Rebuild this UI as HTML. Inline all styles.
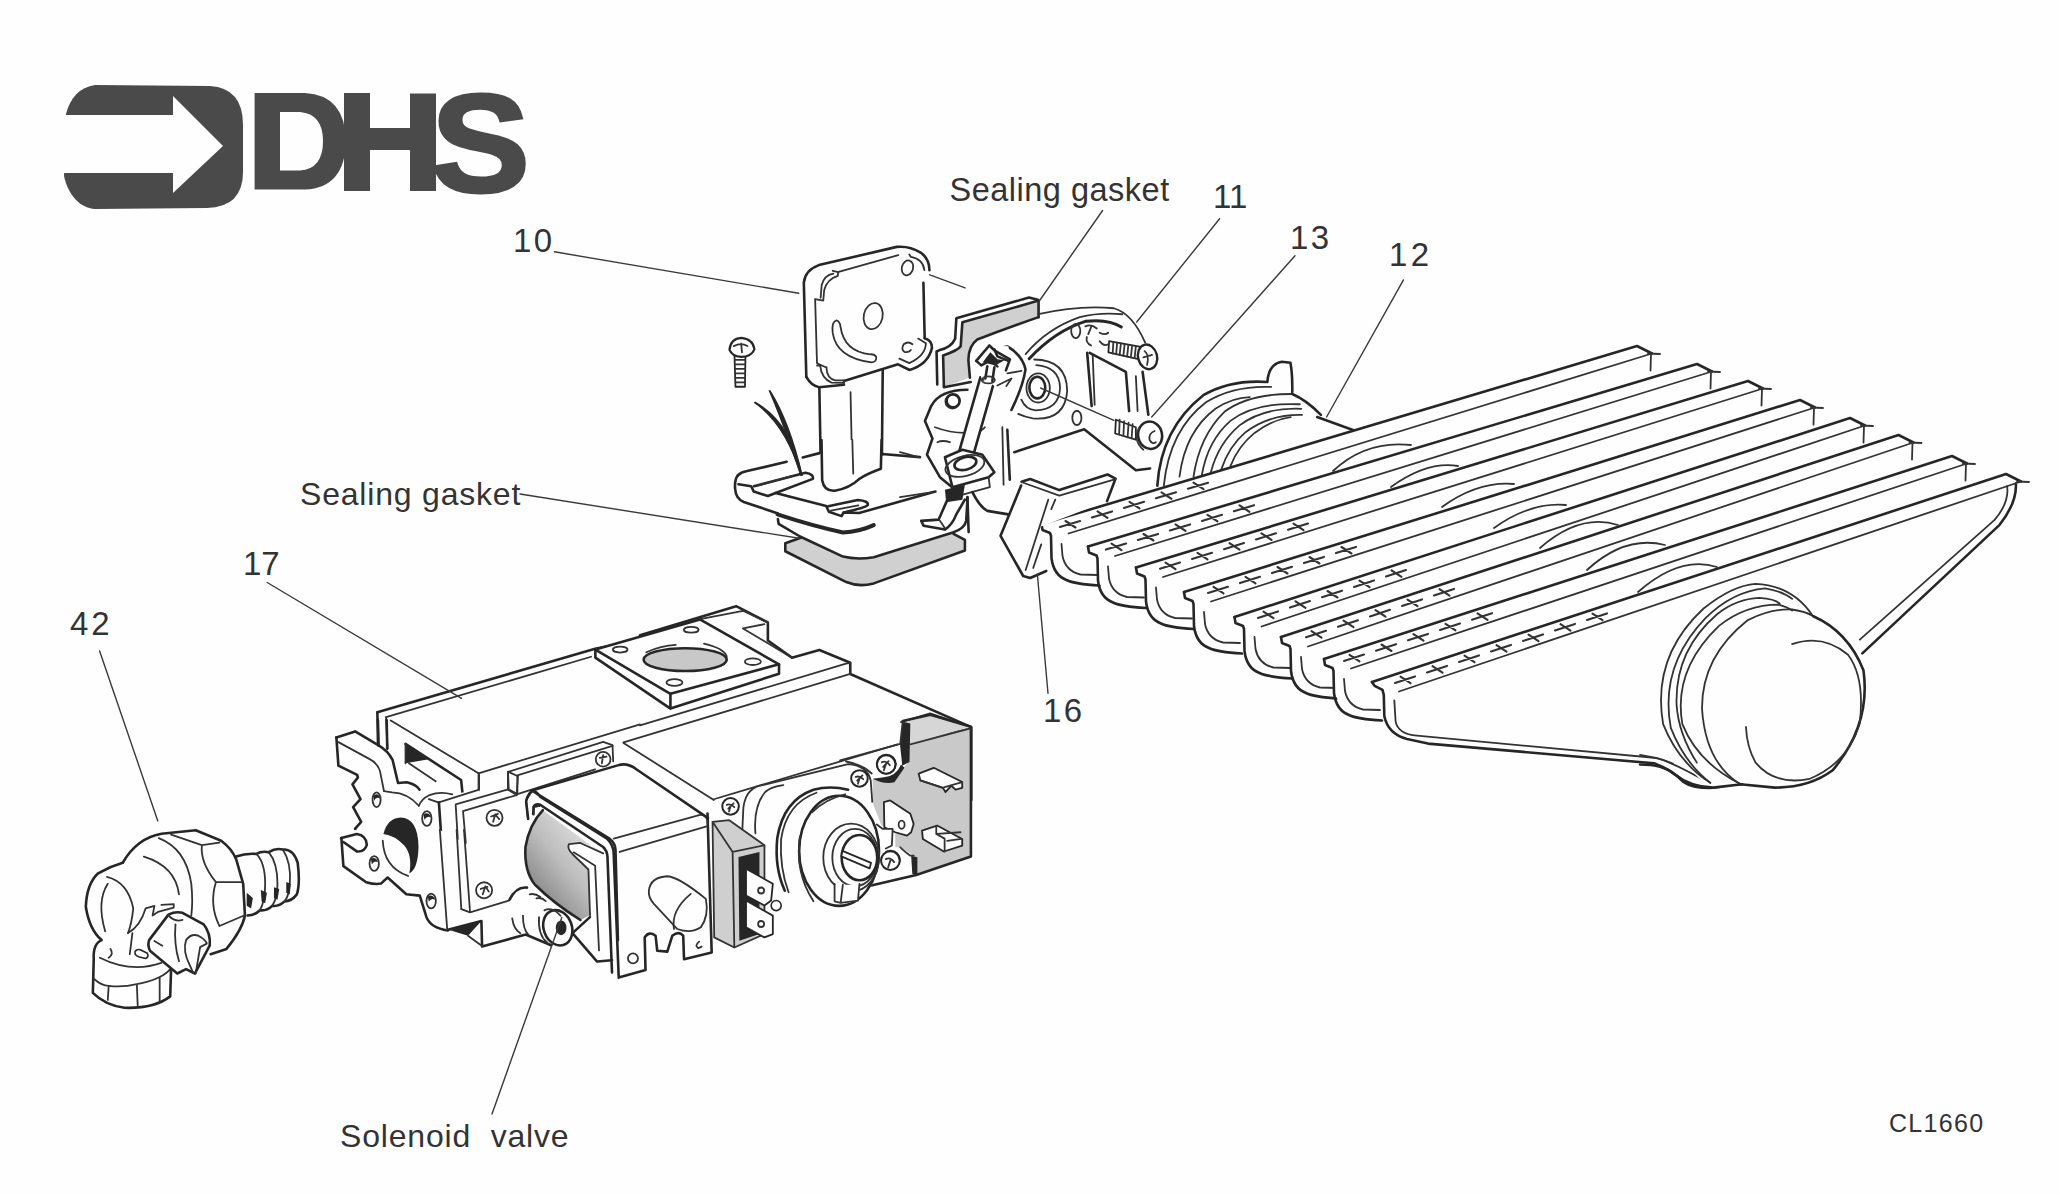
<!DOCTYPE html>
<html><head><meta charset="utf-8">
<style>
html,body{margin:0;padding:0;background:#fefefe;width:2059px;height:1194px;overflow:hidden}
svg{position:absolute;left:0;top:0}
text{font-family:"Liberation Sans",sans-serif;fill:#333}
path,ellipse,circle,rect,polygon,line,polyline{vector-effect:non-scaling-stroke}
.l{fill:none;stroke:#262626;stroke-width:2.6;stroke-linecap:round;stroke-linejoin:round}
.m{fill:none;stroke:#333;stroke-width:1.8;stroke-linecap:round;stroke-linejoin:round}
.t{fill:none;stroke:#3a3a3a;stroke-width:1.4;stroke-linecap:round}
.w{fill:#fefefe;stroke:none}
.f{fill:#fefefe;stroke:#262626;stroke-width:2.6;stroke-linejoin:round}
.g{fill:#d0d0d0;stroke:none}
.k{fill:#262626;stroke:none}
</style></head>
<body>
<svg width="2059" height="1194" viewBox="0 0 2059 1194">
<g id="logo" fill="#4a4a4a">
<path d="M66,114 C70,98 80,87 95,85 L210,86 Q243,88 243,125 L243,172 Q243,207 207,208 L95,209 C80,208 68,195 64,176 Z"/>
<path fill="#fefefe" d="M40,115 L173,115 L173,96 L223,146 L173,193 L173,173 L40,173 Z"/>
<path fill-rule="evenodd" d="M254.6,93 L305,93 Q345,95 346,141 Q345,188 305,189.5 L254.6,189.5 Z M280,112 L300,112 Q323,114 323,141 Q323,169 300,170.5 L280,170.5 Z"/>
<path d="M344,93 L370,93 L370,128 L410,128 L410,93.5 L436,93.5 L436,191 L410,191 L410,150 L370,150 L370,191 L344,191 Z"/>
</g>
<text id="logoS" x="0" y="0" font-size="140" font-weight="bold" transform="translate(431,191.5) scale(1.06,1)" style="fill:#4a4a4a;stroke:#4a4a4a;stroke-width:3">S</text>
<!-- part 10 upper: tile [720,250] scale 300/1202 -->
<g transform="translate(720,250) scale(0.24958)">
 <!-- flange fill -->
 <path class="w" d="M352,508 L343,118 Q345,72 392,62 L712,12 Q748,5 790,12 Q836,30 838,80 L826,350 Q845,352 846,392 L830,425 Q800,455 760,470 L655,480 L652,900 L410,935 L398,547 Z"/>
 <!-- neck -->
 <path class="l" d="M398,547 L405,930"/>
 <path class="l" d="M652,478 L648,900"/>
 <path class="m" d="M523,570 L530,890"/>
 <!-- small screw -->
 <path class="f" d="M58,420 L102,420 L100,548 L62,548 Z" style="stroke-width:1.8"/>
 <path class="m" d="M60,440 L100,440 M60,458 L100,458 M60,476 L100,476 M61,494 L100,494 M61,512 L100,512 M62,530 L100,530"/>
 <path class="f" d="M38,400 Q42,355 85,352 Q132,356 138,398 Q125,428 85,428 Q48,425 38,400 Z" style="stroke-width:2.2"/>
 <path class="m" d="M55,385 Q85,370 110,385 M85,375 L88,410"/>
 <!-- wire -->
 <!-- short stub line -->
 <path class="t" d="M800,85 L982,152"/>
</g>
<!-- flange detail: zoom [790,245] s=150/1194 -->
<g transform="translate(790,245) scale(0.125628)">
 <path class="w" d="M130,1050 L110,300 Q120,200 230,160 L850,15 Q950,5 1040,60 Q1110,110 1110,200 L1070,740 Q1130,760 1130,820 Q1100,950 950,995 L860,950 L430,1110 L230,1130 Q170,1120 130,1050 Z"/>
 <path class="l" d="M130,1050 L110,300 Q120,200 230,160 L850,15 Q950,5 1040,60 Q1110,110 1110,200"/>
 <path class="l" d="M1062,300 L1072,742"/>
 <path class="l" d="M1072,742 Q1132,760 1130,820 Q1100,950 952,995 L860,950 L430,1082"/>
 <path class="l" d="M130,1050 Q170,1122 232,1132 L430,1112"/>
 <path class="m" d="M1020,745 L1082,782 Q1080,880 950,940 L870,905"/>
 <path class="m" d="M950,75 L962,95 Q1058,112 1070,200"/>
 <path class="m" d="M380,215 L862,80"/>
 <path class="m" d="M340,205 L385,215 L380,245 Q295,270 272,360 L265,442 L200,430 L215,942 L290,975"/>
 <path class="m" d="M345,228 Q272,240 252,320 L244,420"/>
 <path class="m" d="M290,975 Q292,1060 360,1078 L432,1078 L428,1112"/>
 <path class="m" d="M215,960 L240,960 Q250,1060 330,1095 L425,1098"/>
 <ellipse class="m" cx="935" cy="182" rx="45" ry="60" transform="rotate(15 935 182)"/>
 <ellipse class="m" cx="662" cy="566" rx="75" ry="105" transform="rotate(12 662 566)"/>
 <path class="m" d="M370,600 Q330,610 340,700 Q370,900 650,935 Q692,930 686,890 Q672,868 640,870 Q430,850 402,650 Q396,605 370,600 Z"/>
 <path class="m" d="M975,790 Q940,762 905,790 Q882,830 910,850 Q940,860 962,836"/>
</g>
<!-- part 10 base: zoom [725,440] scale 260/1940 -->
<g transform="translate(725,440) scale(0.13402)">
 <path class="g" d="M450,770 L570,728 L1705,700 L1790,745 L1790,825 L1110,1070 Q1000,1100 905,1060 L450,830 Z"/>
 <path class="l" d="M450,770 L570,728 M1705,700 L1790,745 L1790,825 L1110,1070 Q1000,1100 905,1060 L450,830 L450,770"/>
 <path class="w" d="M395,560 L395,590 L400,625 L560,720 L880,870 Q980,895 1110,875 L1700,690 Q1790,660 1800,600 L1810,430 L1400,430 Z"/>
 <path class="l" d="M395,590 L400,625 L560,720 L880,870 Q980,895 1110,875 L1700,690 Q1790,660 1800,600 L1810,430"/>
 <path class="w" d="M95,265 Q120,240 165,232 L705,98 L1455,128 L1570,385 Q1200,490 1000,545 L880,690 Q650,640 392,555 L140,462 Q80,440 75,360 Q72,290 95,265 Z"/>
 <path class="l" d="M95,265 Q120,240 165,232 L460,162"/>
 <path class="l" d="M580,130 L705,98"/>
 <path class="l" d="M1170,105 L1455,128"/>
 <path class="l" d="M95,265 Q72,290 75,360 Q80,440 140,462 L395,548"/>
 <path class="l" d="M100,330 L195,345 L215,385 L320,418 L378,395 L755,492 L775,535 L870,568 L885,540 L1000,545 Q1200,490 1570,385"/>
 <path class="l" d="M215,345 L600,245 Q665,255 655,290 L378,395"/>
 <path class="m" d="M245,340 L505,268"/>
 <path class="l" d="M770,495 L990,448 Q1075,455 1065,485 Q1050,505 905,535"/>
 <path class="m" d="M790,527 L995,488"/>
 <path class="l" d="M392,555 Q650,640 880,690 Q1000,685 1110,635" style="stroke-width:4"/>
 <path class="w" d="M720,0 L725,300 Q740,385 820,378 Q930,360 1000,292 Q1060,252 1163,215 L1168,0 Z"/>
 <path class="l" d="M720,0 L725,300 Q740,385 820,378 Q930,360 1000,292 Q1060,252 1163,215 L1168,0"/>
 <path class="m" d="M950,0 L957,250"/>
</g>
<g transform="translate(720,250) scale(0.24958)">
 <path class="k" d="M135,612 Q262,700 322,905 L330,905 Q288,690 141,607 Z"/>
 <path class="k" d="M194,562 Q250,690 322,905 L332,905 Q282,690 202,562 Z"/>
</g>
<!-- injector block main: tile [900,280] scale 300/1202 -->
<g transform="translate(900,280) scale(0.24958)">
 <!-- block body fill -->
 <path class="w" d="M555,140 Q700,112 830,112 Q930,130 965,215 L990,540 L1000,755 L945,760 L740,600 L460,690 L430,790 L300,830 L230,900 L170,830 L110,700 L130,630 L100,560 Q130,450 230,440 L270,420 Z"/>
 <!-- block outline top/right -->
 <!-- holes -->
 <!-- concentric rings -->
 <!-- slot rectangle lines right -->
 <path class="l" d="M750,292 L768,505"/>
 <path class="m" d="M772,300 L780,500"/>
 <path class="l" d="M760,292 L905,368 L918,525"/>
 <path class="m" d="M945,385 L952,525"/>
 <path class="l" d="M972,368 L995,540"/>
 <!-- bottom edge of body -->
 <path class="l" d="M458,690 L738,598 L945,762 L1002,755"/>
 <path class="l" d="M430,600 L440,800"/>
 <path class="m" d="M410,590 L415,820"/>
 <!-- screw 11 -->
 <path class="f" d="M838,245 L965,268 L960,318 L835,290 Z" style="stroke-width:1.8"/>
 <path class="m" d="M855,248 L852,295 M870,251 L866,298 M885,254 L880,301 M900,257 L895,304 M915,260 L910,307 M930,263 L925,310 M945,266 L940,313"/>
 <ellipse class="f" cx="992" cy="308" rx="38" ry="50" transform="rotate(-15 992 308)" style="stroke-width:2.4"/>
 <path class="m" d="M980,285 Q1000,300 990,340 M975,310 L1010,300"/>
 <!-- screw 13 -->
 <path class="f" d="M865,560 L945,590 L945,640 L862,615 Z" style="stroke-width:1.8"/>
 <path class="m" d="M880,560 L878,618 M898,566 L895,624 M916,572 L912,630 M932,578 L928,634"/>
 <ellipse class="f" cx="1002" cy="622" rx="48" ry="55" transform="rotate(-10 1002 622)" style="stroke-width:2.6"/>
 <path class="m" d="M960,590 Q930,640 975,680"/>
 <path class="m" d="M1020,605 Q995,615 1000,640 Q1010,660 1025,650"/>
 <!-- left body lobes -->
 <path class="l" d="M270,440 Q160,440 125,505 L100,565 L130,635 L108,700 L160,790 L215,835"/>
 <circle class="m" cx="210" cy="487" r="28"/>
 <path class="m" d="M140,590 Q220,620 300,610 Q330,605 340,590"/>
 <path class="m" d="M150,650 Q170,640 200,650"/>
 <path class="m" d="M0,690 L75,710 M0,870 L130,850"/>
 <!-- electrode rod -->
 <path class="w" d="M322,390 L378,405 L290,725 L232,712 Z"/>
 <path class="l" d="M322,390 L230,712"/>
 <path class="l" d="M378,405 L288,722"/>
 <!-- ceramic hex nut -->
 <path class="f" d="M180,710 L250,680 L330,700 L378,770 L355,790 L210,830 Z"/>
 <path class="m" d="M355,790 L360,830 L215,870 L210,830"/>
 <ellipse class="m" cx="260" cy="745" rx="80" ry="40" transform="rotate(-15 260 745)"/>
 <ellipse class="f" cx="262" cy="735" rx="45" ry="25" transform="rotate(-15 262 735)"/>
 <path class="k" d="M180,840 L260,820 L250,880 L185,890 Z"/>
 <!-- electrode foot bracket -->
 <path class="l" d="M190,880 L155,960 L85,965 L95,985 L180,1000 Q210,980 225,940 L260,880"/>
 <path class="m" d="M160,965 L180,995"/>
 <path class="l" d="M270,870 L275,1010"/>
 <path class="l" d="M290,850 Q320,910 350,925 L440,940"/>
</g>
<!-- upper gasket + tip: zoom [925,290] scale 160/1592 -->
<g transform="translate(925,290) scale(0.10050)">
 <path class="g" d="M185,655 L355,565 L375,320 L1125,110 L1130,270 Q800,380 520,490 Q430,560 430,700 L445,870 L190,965 Z"/>
 <path class="l" d="M122,940 L115,612 L140,600 Q262,572 300,485 L312,282 L1035,75 L1130,100 L1130,270"/>
 <path class="l" d="M188,965 L180,652 Q330,600 355,560 L372,322 L1122,108"/>
 <path class="l" d="M1130,270 Q800,385 520,492 Q430,560 432,700 L447,872"/>
 <path class="l" d="M190,968 L455,915"/>
 <!-- electrode loop -->
 <path class="l" d="M580,890 Q700,560 820,562 Q970,650 1000,790 Q975,960 860,1194"/>
 <path class="m" d="M820,830 L960,805"/>
 <!-- tip -->
 <path class="f" d="M510,705 L640,552 L830,560 L850,690 L700,960 L560,870 Z" style="stroke-width:0"/>
 <path class="l" d="M510,705 L640,552 L690,600 L845,690 L805,800"/>
 <path class="l" d="M510,705 L560,750 L650,700 L720,760"/>
 <path class="l" d="M690,590 L720,660 L830,705"/>
 <path class="k" d="M575,720 L650,620 L720,690 L790,700 L700,750 Z"/>
 <path class="l" d="M620,760 L600,880 M690,770 L670,905"/>
 <ellipse class="m" cx="630" cy="895" rx="65" ry="35"/>
 <path class="m" d="M720,950 L860,880 L810,955"/>
 <circle class="l" cx="280" cy="1102" r="65"/>
</g>
<!-- injector face: zoom [1000,300] s=170/1194 -->
<g transform="translate(1000,300) scale(0.142379)">
 <path class="m" d="M270,100 Q550,35 800,58 Q930,95 1020,300"/>
 <path class="m" d="M180,380 Q330,200 560,120 Q700,85 860,100"/>
 <path class="l" d="M205,412 Q390,215 600,150 Q760,130 852,190" style="stroke-width:3"/>
 <ellipse class="m" cx="532" cy="218" rx="32" ry="50"/>
 <ellipse class="m" cx="540" cy="828" rx="32" ry="50"/>
 <ellipse class="l" cx="262" cy="615" rx="56" ry="76"/>
 <ellipse class="m" cx="268" cy="618" rx="82" ry="102"/>
 <path class="m" d="M255,458 Q420,470 422,620 Q415,770 250,775 Q180,770 150,700"/>
 <path class="m" d="M240,418 Q470,420 472,640 Q455,850 230,832 Q170,820 128,800"/>
 <path class="t" d="M285,618 L800,845"/>
 <path class="m" d="M600,185 Q640,165 680,200 M640,190 L620,240 M700,230 Q740,250 760,230 M610,260 Q600,300 640,320 M700,290 Q730,330 760,310"/>
</g>
<!-- rear venturi: zoom [1140,350] scale 300/1990 -->
<g transform="translate(1140,350) scale(0.150754)">
 <path class="w" d="M115,900 Q140,520 420,300 Q600,195 845,212 Q852,95 940,78 L998,85 Q1012,160 1010,278 Q1100,330 1200,430 L1440,540 L115,960 Z"/>
 <path class="l" d="M115,900 Q140,520 420,300 Q600,195 845,212 Q852,95 940,78 L998,85 Q1012,160 1010,278"/>
 <path class="m" d="M158,900 Q195,530 440,345 Q620,235 870,245"/>
 <path class="m" d="M262,840 Q300,540 500,390 Q610,315 728,312"/>
 <path class="m" d="M355,840 Q395,570 560,410 Q720,290 1010,292"/>
 <path class="l" d="M1010,292 Q1100,330 1200,430"/>
 <path class="m" d="M410,830 Q450,600 600,470 Q760,345 1060,360"/>
 <path class="m" d="M470,810 Q520,620 660,500 Q820,380 1070,390"/>
 <path class="m" d="M540,790 Q590,640 700,545 Q860,425 1075,430"/>
 <path class="m" d="M600,770 Q650,640 760,550 Q880,460 1000,445"/>
 <path class="l" d="M1175,445 L1440,540"/>
</g>
<!-- side panel: zoom [1760,420] scale 299/1198 -->
<g transform="translate(1760,420) scale(0.249583)">
 <path class="w" d="M1025,255 Q1030,330 960,420 L410,935 L0,935 L0,560 Z"/>
 <path class="l" d="M1025,255 Q1030,330 960,420 L410,935"/>
 <path class="m" d="M990,265 Q1000,330 940,400 L400,880"/>
</g>
<g id="burner">
<path class="w" d="M1041.5,524 L1637,346 L1652,353.5 L1652,370.5 L1100,586.5 L1099.5,585.5 L1077.5,583 L1065.5,577 L1056.5,568 L1051.5,556 L1051.0,536 L1050.0,533 L1042.5,530 Z"/>
<path class="l" d="M1041.5,524 L1637,346 L1652,353.5"/>
<path class="m" d="M1648,353.5 L1660,354.0 M1651,353.5 L1650.5,370.5"/>
<path class="m" d="M1068.5,533.5 L1652,353.5"/>
<path class="m" style="stroke-width:2.1" d="M1059.9,527.0 L1080.1,521.0 M1065.5,521.0 L1075.5,527.5"/>
<path class="m" style="stroke-width:2.1" d="M1091.9,517.4 L1112.1,511.4 M1097.5,511.4 L1107.5,517.9"/>
<path class="m" style="stroke-width:2.1" d="M1123.9,507.9 L1144.1,501.8 M1129.5,501.9 L1139.5,508.4"/>
<path class="m" style="stroke-width:2.1" d="M1155.9,498.3 L1176.1,492.3 M1161.5,492.3 L1171.5,498.8"/>
<path class="m" style="stroke-width:2.1" d="M1187.9,488.7 L1208.1,482.7 M1193.5,482.7 L1203.5,489.2"/>
<path class="l" d="M1041.5,524 L1042.5,530 L1050.0,533 L1051.0,536 L1051.5,558 Q1053.5,575 1066.5,580 Q1074.5,584 1099.5,585.5"/>
<path class="m" d="M1061.5,544 L1062.5,556 Q1065.5,571 1080.5,574.5 L1097.5,575"/>
<path class="w" d="M1088,546.5 L1697,364 L1712,371.5 L1712,388.5 L1148,607.5 L1146,608.0 L1124,605.5 L1112,599.5 L1103,590.5 L1098,578.5 L1097.5,558.5 L1096.5,555.5 L1089,552.5 Z"/>
<path class="l" d="M1088,546.5 L1697,364 L1712,371.5"/>
<path class="m" d="M1708,371.5 L1720,372.0 M1711,371.5 L1710.5,388.5"/>
<path class="m" d="M1115,556.0 L1712,371.5"/>
<path class="m" style="stroke-width:2.1" d="M1105.9,549.6 L1126.1,543.6 M1111.5,543.6 L1121.5,550.1"/>
<path class="m" style="stroke-width:2.1" d="M1137.9,540.0 L1158.1,534.0 M1143.5,534.0 L1153.5,540.5"/>
<path class="m" style="stroke-width:2.1" d="M1169.9,530.4 L1190.1,524.4 M1175.5,524.4 L1185.5,530.9"/>
<path class="m" style="stroke-width:2.1" d="M1201.9,520.9 L1222.1,514.8 M1207.5,514.8 L1217.5,521.3"/>
<path class="m" style="stroke-width:2.1" d="M1233.9,511.3 L1254.1,505.2 M1239.5,505.3 L1249.5,511.8"/>
<path class="l" d="M1088,546.5 L1089,552.5 L1096.5,555.5 L1097.5,558.5 L1098,580.5 Q1100,597.5 1113,602.5 Q1121,606.5 1146,608.0"/>
<path class="m" d="M1108,566.5 L1109,578.5 Q1112,593.5 1127,597.0 L1144,597.5"/>
<path class="w" d="M1136,567.5 L1748,381 L1763,388.5 L1763,405.5 L1196,632 L1194,629.0 L1172,626.5 L1160,620.5 L1151,611.5 L1146,599.5 L1145.5,579.5 L1144.5,576.5 L1137,573.5 Z"/>
<path class="l" d="M1136,567.5 L1748,381 L1763,388.5"/>
<path class="m" d="M1759,388.5 L1771,389.0 M1762,388.5 L1761.5,405.5"/>
<path class="m" d="M1163,577.0 L1763,388.5"/>
<path class="m" style="stroke-width:2.1" d="M1160.0,568.7 L1180.0,562.6 M1165.5,562.6 L1175.5,569.1"/>
<path class="m" style="stroke-width:2.1" d="M1192.0,558.9 L1212.0,552.8 M1197.5,552.9 L1207.5,559.4"/>
<path class="m" style="stroke-width:2.1" d="M1224.0,549.2 L1244.0,543.1 M1229.5,543.1 L1239.5,549.6"/>
<path class="m" style="stroke-width:2.1" d="M1256.0,539.4 L1276.0,533.3 M1261.5,533.4 L1271.5,539.9"/>
<path class="m" style="stroke-width:2.1" d="M1288.0,529.7 L1308.0,523.6 M1293.5,523.6 L1303.5,530.1"/>
<path class="l" d="M1136,567.5 L1137,573.5 L1144.5,576.5 L1145.5,579.5 L1146,601.5 Q1148,618.5 1161,623.5 Q1169,627.5 1194,629.0"/>
<path class="m" d="M1156,587.5 L1157,599.5 Q1160,614.5 1175,618.0 L1192,618.5"/>
<path class="w" d="M1184,592 L1800,400 L1815,407.5 L1815,424.5 L1246.5,657 L1242,653.5 L1220,651 L1208,645 L1199,636 L1194,624 L1193.5,604 L1192.5,601 L1185,598 Z"/>
<path class="l" d="M1184,592 L1800,400 L1815,407.5"/>
<path class="m" d="M1811,407.5 L1823,408.0 M1814,407.5 L1813.5,424.5"/>
<path class="m" d="M1211,601.5 L1815,407.5"/>
<path class="m" style="stroke-width:2.1" d="M1208.0,593.0 L1228.0,586.8 M1213.5,586.9 L1223.5,593.4"/>
<path class="m" style="stroke-width:2.1" d="M1240.0,583.1 L1260.0,576.8 M1245.5,576.9 L1255.5,583.4"/>
<path class="m" style="stroke-width:2.1" d="M1272.0,573.1 L1292.0,566.8 M1277.5,567.0 L1287.5,573.5"/>
<path class="m" style="stroke-width:2.1" d="M1304.0,563.1 L1324.0,556.9 M1309.5,557.0 L1319.5,563.5"/>
<path class="m" style="stroke-width:2.1" d="M1336.0,553.1 L1356.0,546.9 M1341.5,547.0 L1351.5,553.5"/>
<path class="l" d="M1184,592 L1185,598 L1192.5,601 L1193.5,604 L1194,626 Q1196,643 1209,648 Q1217,652 1242,653.5"/>
<path class="m" d="M1204,612 L1205,624 Q1208,639 1223,642.5 L1240,643"/>
<path class="w" d="M1234.5,617 L1850,418 L1865,425.5 L1865,442.5 L1293,677 L1292.5,678.5 L1270.5,676 L1258.5,670 L1249.5,661 L1244.5,649 L1244.0,629 L1243.0,626 L1235.5,623 Z"/>
<path class="l" d="M1234.5,617 L1850,418 L1865,425.5"/>
<path class="m" d="M1861,425.5 L1873,426.0 M1864,425.5 L1863.5,442.5"/>
<path class="m" d="M1261.5,626.5 L1865,425.5"/>
<path class="m" style="stroke-width:2.1" d="M1258.0,617.9 L1278.0,611.4 M1263.5,611.7 L1273.5,618.2"/>
<path class="m" style="stroke-width:2.1" d="M1290.0,607.6 L1310.0,601.1 M1295.5,601.3 L1305.5,607.8"/>
<path class="m" style="stroke-width:2.1" d="M1322.0,597.2 L1342.0,590.7 M1327.5,591.0 L1337.5,597.5"/>
<path class="m" style="stroke-width:2.1" d="M1354.0,586.9 L1374.0,580.4 M1359.5,580.6 L1369.5,587.1"/>
<path class="m" style="stroke-width:2.1" d="M1386.0,576.5 L1406.0,570.1 M1391.5,570.3 L1401.5,576.8"/>
<path class="l" d="M1234.5,617 L1235.5,623 L1243.0,626 L1244.0,629 L1244.5,651 Q1246.5,668 1259.5,673 Q1267.5,677 1292.5,678.5"/>
<path class="m" d="M1254.5,637 L1255.5,649 Q1258.5,664 1273.5,667.5 L1290.5,668"/>
<path class="w" d="M1281,637 L1898.5,435 L1913.5,442.5 L1913.5,459.5 L1336,699 L1339,698.5 L1317,696 L1305,690 L1296,681 L1291,669 L1290.5,649 L1289.5,646 L1282,643 Z"/>
<path class="l" d="M1281,637 L1898.5,435 L1913.5,442.5"/>
<path class="m" d="M1909.5,442.5 L1921.5,443.0 M1912.5,442.5 L1912.0,459.5"/>
<path class="m" d="M1308,646.5 L1913.5,442.5"/>
<path class="m" style="stroke-width:2.1" d="M1306.0,637.3 L1326.0,630.8 M1311.5,631.1 L1321.5,637.6"/>
<path class="m" style="stroke-width:2.1" d="M1338.0,626.8 L1358.0,620.3 M1343.5,620.6 L1353.5,627.1"/>
<path class="m" style="stroke-width:2.1" d="M1370.0,616.4 L1390.0,609.8 M1375.5,610.1 L1385.5,616.6"/>
<path class="m" style="stroke-width:2.1" d="M1402.0,605.9 L1422.0,599.4 M1407.5,599.6 L1417.5,606.1"/>
<path class="m" style="stroke-width:2.1" d="M1434.0,595.4 L1454.0,588.9 M1439.5,589.2 L1449.5,595.7"/>
<path class="l" d="M1281,637 L1282,643 L1289.5,646 L1290.5,649 L1291,671 Q1293,688 1306,693 Q1314,697 1339,698.5"/>
<path class="m" d="M1301,657 L1302,669 Q1305,684 1320,687.5 L1337,688"/>
<path class="w" d="M1324,659 L1952,456 L1967,463.5 L1967,480.5 L1384,722 L1382,720.5 L1360,718 L1348,712 L1339,703 L1334,691 L1333.5,671 L1332.5,668 L1325,665 Z"/>
<path class="l" d="M1324,659 L1952,456 L1967,463.5"/>
<path class="m" d="M1963,463.5 L1975,464.0 M1966,463.5 L1965.5,480.5"/>
<path class="m" d="M1351,668.5 L1967,463.5"/>
<path class="m" style="stroke-width:2.1" d="M1344.0,661.0 L1364.0,654.6 M1349.5,654.8 L1359.5,661.3"/>
<path class="m" style="stroke-width:2.1" d="M1376.0,650.7 L1396.0,644.2 M1381.5,644.5 L1391.5,651.0"/>
<path class="m" style="stroke-width:2.1" d="M1408.0,640.3 L1428.0,633.9 M1413.5,634.1 L1423.5,640.6"/>
<path class="m" style="stroke-width:2.1" d="M1440.0,630.0 L1460.0,623.5 M1445.5,623.8 L1455.5,630.3"/>
<path class="m" style="stroke-width:2.1" d="M1472.0,619.7 L1492.0,613.2 M1477.5,613.4 L1487.5,619.9"/>
<path class="l" d="M1324,659 L1325,665 L1332.5,668 L1333.5,671 L1334,693 Q1336,710 1349,715 Q1357,719 1382,720.5"/>
<path class="m" d="M1344,679 L1345,691 Q1348,706 1363,709.5 L1380,710"/>
<path class="l" d="M1372,682 L2006,474 L2021,481.5"/>
<path class="m" d="M2017,481.5 L2029,482.0"/>
<path class="m" d="M1399,691.5 L2021,481.5"/>
<path class="m" style="stroke-width:2.1" d="M1395.0,682.9 L1415.0,676.4 M1400.5,676.7 L1410.5,683.2"/>
<path class="m" style="stroke-width:2.1" d="M1427.0,672.4 L1447.0,665.9 M1432.5,666.2 L1442.5,672.7"/>
<path class="m" style="stroke-width:2.1" d="M1459.0,661.9 L1479.0,655.4 M1464.5,655.7 L1474.5,662.2"/>
<path class="m" style="stroke-width:2.1" d="M1491.0,651.5 L1511.0,644.9 M1496.5,645.2 L1506.5,651.7"/>
<path class="m" style="stroke-width:2.1" d="M1523.0,641.0 L1543.0,634.4 M1528.5,634.7 L1538.5,641.2"/>
<path class="m" style="stroke-width:2.1" d="M1555.0,630.5 L1575.0,623.9 M1560.5,624.2 L1570.5,630.7"/>
<path class="m" style="stroke-width:2.1" d="M1587.0,620.0 L1607.0,613.4 M1592.5,613.7 L1602.5,620.2"/>
<path class="l" d="M1372,682 L1374.6,685.9 L1382.5,689.9 L1383.8,695.1 L1384.3,716 Q1388,734 1407,739 L1428,743.6 L1654,763.3 Q1672,770 1683,781.6 Q1692,788 1710,788 L1740.9,784.3"/>
<path class="m" d="M1394.3,700.4 L1395.6,721.3 Q1398,734 1417,735.7 L1656.6,758 Q1672,762 1709,783"/>
<path class="m" d="M1333,471 Q1366,440 1411,445"/>
<path class="m" d="M1391,487 Q1427,461 1458,466"/>
<path class="m" d="M1442,507 Q1478,481 1514,484"/>
<path class="m" d="M1494,528 Q1530,502 1566,505"/>
<path class="m" d="M1540,548 Q1580,513 1618,525"/>
<path class="m" d="M1587,570 Q1625,535 1665,545"/>
<path class="m" d="M1638,592 Q1680,555 1717,567"/>
</g><!-- dome: zoom [1640,570] scale 240/1246 -->
<g transform="translate(1640,570) scale(0.192616)">
 <path class="w" d="M95,650 Q100,250 600,72 Q760,90 895,235 Q1170,420 1170,650 Q1150,1000 780,1130 L380,1130 Q200,1050 95,650 Z"/>
 <path class="m" d="M365,1105 Q200,1000 120,800 Q60,450 330,200 Q480,80 600,72 Q790,80 895,235"/>
 <path class="m" d="M365,1105 Q230,1000 160,820 Q100,500 340,250 Q480,110 650,95 Q740,110 790,150"/>
 <path class="m" d="M295,1000 Q200,850 190,700 Q180,420 400,230 Q500,150 620,145 Q700,150 725,175"/>
 <path class="m" d="M520,1110 Q300,1000 220,800 Q170,520 410,290 Q550,180 720,180 Q770,195 790,210"/>
 <path class="m" d="M520,1112 Q340,1000 322,720 Q320,450 560,260 Q680,200 790,205 Q860,215 900,240"/>
 <path class="l" d="M900,240 Q1080,320 1160,520 Q1200,800 1000,1040 Q880,1130 700,1130 L520,1112"/>
 <path class="m" d="M790,385 Q950,330 1080,440 Q1170,560 1140,800 Q1080,1000 880,1085 Q700,1120 600,1000 Q555,920 550,815"/>
 <path class="l" d="M0,1010 Q120,1010 180,1060 Q260,1125 380,1130 L530,1112"/>
 <path class="m" d="M0,960 Q100,975 170,1005"/>
</g>
<!-- part 16 bracket: zoom [990,470] scale 130/1294 -->
<g transform="translate(990,470) scale(0.100464)">
 <path class="w" d="M315,118 L400,90 L690,200 L1170,45 L1250,85 L1165,310 L490,570 L560,1005 L400,1075 L330,1055 L105,655 L310,155 Z"/>
 <path class="l" d="M310,155 L105,655 L330,1055 L400,1075 L560,1005"/>
 <path class="l" d="M315,118 L400,90 L690,200 L1170,45 L1250,85 L1165,310"/>
 <path class="m" d="M318,122 L690,255 L1250,90"/>
 <path class="m" d="M580,295 L355,995 M510,740 L430,975 M650,295 L610,390"/>
</g>
<defs><linearGradient id="coilgrad" x1="0.8" y1="0.1" x2="0.2" y2="0.8"><stop offset="0" stop-color="#e4e4e4"/><stop offset="0.55" stop-color="#bdbdbd"/><stop offset="1" stop-color="#8a8a8a"/></linearGradient></defs>
<!-- GAS VALVE 17 -->
<g transform="translate(325,595) scale(0.330830)">
 <path class="w" d="M35,430 L165,355 L1245,35 L1335,85 L1420,190 L1545,170 L1585,215 L1830,350 L1950,400 L1950,780 L1790,820 L1340,960 L1335,1030 L1170,1090 L930,1160 L860,1110 L750,1070 L480,1060 L340,1000 L300,940 L200,885 L50,780 L50,735 L95,730 L80,570 L45,480 Z"/>
</g>
<!-- Z1 top-left: [370,640] -->
<g transform="translate(370,640) scale(0.133994)">
 <path class="l" d="M55,540 L1680,65 L2015,0"/>
 <path class="m" d="M120,575 L1650,125"/>
 <path class="l" d="M55,540 L60,790"/>
 <path class="m" d="M120,575 L130,810"/>
 <path class="m" d="M155,600 L810,995 L810,1125"/>
 <path class="m" d="M810,995 L2015,630"/>
 <path class="k" d="M265,775 L265,920 L440,890 Z"/>
 <path class="l" d="M265,775 L680,1045 L690,1140"/>
 <path class="m" d="M265,775 L265,920 M290,920 L490,1055"/>
 <path class="m" d="M1030,985 L1740,760 L1810,785 L1815,905"/>
 <path class="m" d="M1030,985 L1035,1115 L1100,1150 L1100,1010 L1810,790"/>
 <path class="m" d="M1100,1150 L1680,965"/>
 <circle class="m" cx="1740" cy="890" r="55"/>
 <path class="m" d="M1715,880 L1765,870 M1740,860 L1730,920"/>
</g>
<!-- Z2 top-right: [640,595] s=1/5.826 -->
<g transform="translate(640,595) scale(0.171644)">
 <path class="l" d="M0,235 L560,65 L745,160 L745,265 L885,365 L1045,320 L1225,395 L1225,460 L1930,770 L1930,1194"/>
 <path class="m" d="M350,140 L600,92 L745,160"/>
 <path class="m" d="M600,195 L725,170 M600,195 L885,365"/>
 <path class="m" d="M0,760 L1200,400 L1225,395"/>
 <path class="m" d="M-96,859 L1225,460"/>
 <path class="m" d="M-96,862 L430,1194"/>
 <path class="m" d="M430,1190 L1500,870"/>
 <path class="m" d="M1520,740 L1690,690 L1930,770 M1555,860 L1930,775"/>
 <circle class="f" cx="1435" cy="985" r="55" style="stroke-width:2"/>
 <path class="m" d="M1410,975 Q1435,960 1455,990 M1435,985 L1425,1020"/>
 <path class="m" d="M1200,970 Q1300,990 1350,1040"/>
</g>
<!-- Z3 pad: [590,600] -->
<g transform="translate(590,600) scale(0.134048)">
 <path class="w" d="M40,370 L820,145 L1410,480 L1410,550 L600,810 L40,430 Z"/>
 <path class="l" d="M40,370 L820,145 L1410,480 L600,700 Z"/>
 <path class="l" d="M40,370 L40,430 L600,810 L1410,550 L1410,480 M600,700 L600,810"/>
 <ellipse cx="710" cy="445" rx="310" ry="85" style="fill:#c8c8c8;stroke:#262626;stroke-width:2.6"/>
 <path class="m" d="M420,390 Q530,340 640,335 M850,325 Q1000,360 1020,420"/>
 <ellipse class="m" cx="225" cy="370" rx="55" ry="22"/>
 <ellipse class="m" cx="755" cy="222" rx="55" ry="22"/>
 <ellipse class="m" cx="1215" cy="460" rx="60" ry="25"/>
 <ellipse class="m" cx="630" cy="615" rx="60" ry="25"/>
</g>
<!-- Z4 left flange: [325,720] -->
<g transform="translate(325,720) scale(0.133994)">
 <path class="w" d="M85,130 L225,85 L400,190 L450,225 L510,300 L545,470 L610,465 L700,500 L780,560 L950,555 L1150,520 L1150,1194 L260,1170 L135,1075 L120,885 L230,845 L225,810 L270,760 L210,650 L265,590 L205,480 L245,430 L240,410 L100,340 Z"/>
 <path class="l" d="M85,130 L225,85 L400,190"/>
 <path class="l" d="M85,130 L100,340 L240,410 L245,430 L205,480 L265,590 L210,650 L270,760 L225,810 L230,845 L120,885"/>
 <path class="m" d="M100,165 L330,290 Q390,320 410,380 L440,530"/>
 <path class="l" d="M400,190 Q470,230 505,300 L545,470 L610,465 Q680,480 705,520"/>
 <path class="m" d="M440,530 L500,540 Q620,545 700,640"/>
 <path class="m" d="M700,640 Q720,590 780,560 Q860,530 950,555"/>
 <ellipse class="m" cx="385" cy="595" rx="30" ry="55"/>
 <path class="k" d="M362,565 Q395,535 412,585 Q380,570 368,605 Z"/>
 <ellipse class="m" cx="760" cy="735" rx="35" ry="55"/>
 <path class="k" d="M735,705 Q770,680 792,725 Q760,712 742,745 Z"/>
 <path class="l" d="M395,0 L400,190 M460,0 L465,215"/>
 <path class="m" d="M850,615 L1150,520 L1150,400"/>
 <path class="l" d="M850,615 L890,1194"/>
 <path class="m" d="M975,630 L1360,520 M975,630 L1010,1194"/>
 <path class="m" d="M1030,680 L1430,560 M1030,680 L1075,1194"/>
 <circle class="m" cx="1265" cy="730" r="60"/>
 <path class="m" d="M1240,720 L1290,700 M1255,760 L1270,705 L1300,740"/>
 <path class="m" d="M1365,385 L1365,520 L1430,560 L1440,420 L1365,385"/>
 <path class="m" d="M775,590 L845,615"/>
 <path class="m" d="M1515,740 L1500,600 L1545,530 L2015,835 M1550,700 L1560,650 L1600,640 L2015,900"/>
</g>
<!-- Z5 lower-left: [330,830] -->
<g transform="translate(330,830) scale(0.133994)">
 <path class="w" d="M85,60 L100,270 L270,390 L380,400 L430,355 L570,480 L670,490 L720,650 L780,730 L880,750 L1130,680 L1135,870 L1460,780 L1650,860 L1800,800 L1800,500 L820,0 L85,0 Z"/>
 <path class="l" d="M85,60 L100,270 L270,390 Q340,410 380,400 L430,355 L570,480 L670,490 L720,650 Q750,730 880,750"/>
 <path class="l" d="M85,60 L200,30 Q270,40 275,110 Q260,165 200,160 L100,90"/>
 <ellipse class="m" cx="330" cy="250" rx="35" ry="55"/>
 <path class="k" d="M305,215 Q340,195 360,240 Q330,225 312,255 Z"/>
 <ellipse class="m" cx="755" cy="530" rx="35" ry="55"/>
 <path class="k" d="M730,495 Q765,475 785,520 Q755,505 737,535 Z"/>
 <path class="m" d="M820,0 L875,745 M945,0 L980,590 M1000,0 L1045,610"/>
 <path class="m" d="M980,590 L1045,615 L1340,525"/>
 <path class="l" d="M880,745 L1130,680 L1135,870 L1460,780"/>
 <path class="k" d="M885,745 L1130,680 L1030,790 Z"/>
 <path class="m" d="M1030,790 L1135,865"/>
 <circle class="m" cx="1150" cy="450" r="60"/>
 <path class="m" d="M1125,440 L1175,425 M1140,480 L1160,420 L1185,460"/>
</g>
<g transform="translate(325,720) scale(0.133994)">
 <path class="k" d="M436,850 Q465,735 563,728 Q695,732 698,948 Q694,1112 629,1146 Q655,1010 590,935 Q520,860 436,850 Z"/>
 <path class="m" d="M431,901 Q440,1100 620,1164"/>
</g>
<!-- Z6 coil housing etc: [540,790] s=1/5.97 -->
<g transform="translate(540,790) scale(0.167504)">
 <path class="w" d="M0,40 L440,290 L1000,140 L1030,980 L860,1010 L470,1120 L350,1030 L0,800 Z"/>
 <path class="l" d="M0,40 L400,290 Q440,330 440,380 L470,1120 L630,1075 L625,880 Q650,840 690,870 L700,960 L760,965 L790,870 Q830,840 855,870 L860,1010 L1025,970 L1000,140"/>
 <path class="m" d="M440,290 L950,150 Q1000,140 1000,200"/>
 <path class="l" d="M-54,5 L474,-150 Q525,-162 575,-124 L1003,168"/>
 <path class="m" d="M475,370 L1000,215"/>
 <circle class="m" cx="555" cy="1005" r="30"/>
 <path class="m" d="M950,905 Q920,930 945,945 L965,935"/>
 <path class="w" d="M650,600 Q660,520 760,515 Q830,520 990,650 Q1010,750 960,820 Q900,860 820,830 L680,680 Q645,640 650,600 Z"/>
 <path class="m" d="M650,600 Q660,520 760,515 Q830,520 990,650 Q1010,750 960,820 Q900,860 820,830 L680,680 Q645,640 650,600 Z"/>
 <path class="m" d="M800,830 Q780,720 900,620"/>
</g>
<!-- coil: zoom [500,780] s=1/7.464 -->
<g transform="translate(500,780) scale(0.133976)">
 <path d="M320,225 L770,555 Q700,480 600,470 L510,480 Q500,520 550,560 L665,670 L670,1010 L600,1045 Q450,950 400,900 Q260,790 220,700 Q180,580 200,420 Q240,290 320,225 Z" style="fill:url(#coilgrad);stroke:none"/>
 <path class="l" d="M320,225 Q220,330 190,500 Q180,680 260,780 Q400,920 600,1045"/>
 <path class="l" d="M210,290 L195,160 Q210,90 250,80 Q270,90 290,110 L820,440 Q860,470 862,520 L880,1194"/>
 <path class="l" d="M250,255 L250,200 Q265,175 300,185 L770,500 Q800,530 802,570 L836,1437"/>
 <path class="m" d="M770,548 L600,470 L515,478 Q495,510 548,560 L660,668 L672,1010 M550,540 L710,640 L739,1272"/>
 <path class="l" d="M546,1148 L725,1355 L836,1345"/>
</g>
<!-- inlet nozzle: zoom [330,830] -->
<g transform="translate(330,830) scale(0.133994)">
 <path class="w" d="M1340,520 Q1390,420 1470,430 L1700,580 Q1830,650 1810,760 Q1780,870 1680,860 L1460,780 Q1350,720 1340,520 Z"/>
 <path class="l" d="M1340,520 Q1390,420 1470,430 M1460,780 L1650,860"/>
 <path class="m" d="M1360,660 Q1370,740 1420,770 M1440,640 Q1440,740 1480,780 M1490,480 Q1530,470 1570,500 M1540,510 Q1580,500 1610,530"/>
 <ellipse class="l" cx="1700" cy="730" rx="105" ry="135" transform="rotate(-20 1700 730)"/>
 <path class="m" d="M1560,650 Q1550,780 1620,840 M1600,600 Q1660,570 1720,640"/>
 <ellipse class="k" cx="1725" cy="730" rx="40" ry="55"/>
 <path class="l" d="M1820,760 L1940,650"/>
</g>
<!-- Z7 right panel: zoom [840,700] s=150/896 -->
<g transform="translate(840,700) scale(0.167411)">
 <path class="g" d="M195,470 L270,490 L370,420 L400,380 L400,270 L780,165 L780,935 L450,1040 L440,930 L360,880 L330,880 L330,790 L265,760 L200,720 Z" style="fill:#c9c9c9"/>
 <path class="g" d="M380,135 L540,92 L780,160 L420,265 Z" style="fill:#d6d6d6"/>
 <path class="k" d="M375,130 L420,140 L415,370 L372,392 L358,262 Z"/>
 <path class="k" d="M195,470 Q260,505 325,492 L385,405 L365,385 Q335,455 262,462 Z"/>
 <path class="k" d="M425,930 L462,940 L462,1045 L432,1040 Z"/>
 <path class="l" d="M375,125 L540,88 L782,160 L782,935 L455,1045 L180,1110"/>
 <path class="m" d="M420,265 L780,170 M375,125 L360,262 L0,360"/>
 <path class="m" d="M360,880 Q380,900 420,930 L440,930"/>
 <circle class="f" cx="276" cy="385" r="55" style="stroke-width:2"/>
 <path class="m" d="M250,372 Q276,360 298,390 M274,385 L262,420 M258,400 L290,365"/>
 <circle class="f" cx="302" cy="955" r="55" style="stroke-width:2"/>
 <path class="m" d="M278,945 Q302,930 325,960 M302,955 L290,992"/>
 <path class="f" d="M470,440 L560,405 L730,490 L730,525 L690,535 L665,512 L630,550 L615,525 L480,480 Z" style="stroke-width:1.8"/>
 <path class="m" d="M480,480 L615,525 M730,490 L620,522"/>
 <path class="f" d="M262,610 L300,600 L420,680 L440,740 L425,790 L400,810 L330,790 L265,760 Z" style="stroke-width:1.8"/>
 <ellipse class="m" cx="368" cy="745" rx="18" ry="24"/>
 <path class="f" d="M490,780 L580,750 L730,830 L730,870 L620,905 L495,830 Z" style="stroke-width:1.8"/>
 <path class="m" d="M575,755 L575,800 L625,828 L625,905 M640,842 L725,830 M580,800 L720,790"/>
</g>
<!-- regulator: zoom [720,740] s=1/6.633 -->
<g transform="translate(720,740) scale(0.150761)">
 <path class="w" d="M150,600 L155,450 Q170,330 260,305 L850,160 Q980,170 1000,270 L1010,410 L1080,590 L1145,590 L1140,700 L1100,720 L1050,900 L900,1110 L640,1110 L430,1000 L150,1000 Z"/>
 <path class="m" d="M148,600 L155,450 Q170,330 260,305 L850,160 Q980,170 1000,270 L1010,410"/>
 <path class="m" d="M235,620 Q220,440 300,345 Q340,310 420,300"/>
 <path class="l" d="M430,1000 Q360,850 380,650 Q420,400 620,330 Q730,300 850,330"/>
 <path class="m" d="M455,1010 Q395,850 405,660 Q440,420 640,350"/>
 <ellipse class="l" cx="790" cy="735" rx="265" ry="365"/>
 <path class="m" d="M610,480 Q700,390 830,360"/>
 <path class="m" d="M530,640 Q495,880 620,1070"/>
 <ellipse class="m" cx="870" cy="780" rx="185" ry="225"/>
 <ellipse class="m" cx="895" cy="780" rx="150" ry="190"/>
 <ellipse class="l" cx="925" cy="780" rx="118" ry="150"/>
 <path class="f" d="M812,735 L1002,815 L992,852 L805,772 Z" style="stroke-width:1.8"/>
 <path class="w" d="M760,960 L930,960 L915,1070 L790,1085 Z"/>
 <path class="m" d="M760,955 L760,1070 L800,1080 L815,960 M925,955 L915,1065 L800,1080"/>
 <path class="m" d="M1040,560 L1080,590 L1145,590 L1140,700 L1100,720"/>
 <circle class="f" cx="70" cy="440" r="55" style="stroke-width:2"/>
 <path class="m" d="M45,430 Q70,420 95,445 M70,440 L60,475 M55,455 L90,420"/>
 <circle class="f" cx="925" cy="255" r="55" style="stroke-width:2"/>
 <path class="m" d="M900,245 Q925,235 950,260 M925,255 L915,290 M910,270 L945,235"/>
 <circle class="f" cx="1130" cy="800" r="62" style="stroke-width:2"/>
 <path class="m" d="M1100,790 Q1130,775 1155,810 M1130,800 L1115,845"/>
</g>
<!-- terminal block: zoom [540,790] -->
<g transform="translate(540,790) scale(0.167504)">
 <path class="g" d="M1030,190 L1130,180 L1340,330 L1340,860 L1160,940 L1040,880 Z" style="fill:#cfcfcf"/>
 <path class="m" d="M1030,190 L1130,180 L1340,330 L1150,370 L1030,190 M1340,330 L1340,860 L1160,940 L1150,370 M1040,880 L1160,940 M1030,190 L1040,880"/>
 <path class="k" d="M1185,400 L1310,370 L1310,860 L1190,900 Z"/>
 <path class="f" d="M1230,470 L1390,560 L1380,660 L1340,690 L1230,630 Z" style="stroke-width:1.8"/>
 <circle class="m" cx="1320" cy="600" r="18"/>
 <path class="f" d="M1230,660 L1390,750 L1390,860 L1340,880 L1230,820 Z" style="stroke-width:1.8"/>
 <circle class="m" cx="1320" cy="800" r="18"/>
 <circle class="f" cx="1410" cy="690" r="30" style="stroke-width:1.6"/>
</g>
<!-- fitting 42: zoom [70,810] s=1/5.6875 -->
<g transform="translate(70,810) scale(0.175824)">
 <!-- thread -->
 <path class="w" d="M945,265 Q1000,240 1090,235 Q1180,215 1260,225 Q1310,300 1300,450 Q1280,520 1200,545 L1030,605 L990,600 Z"/>
 <path class="l" d="M945,265 Q1000,245 1060,250 Q1090,232 1130,240 Q1170,215 1210,225 Q1270,220 1295,300 Q1310,420 1290,480 Q1260,520 1220,520 Q1190,550 1150,545 Q1120,575 1080,570 Q1050,600 1010,600"/>
 <path class="m" d="M1060,250 Q1110,300 1110,420 Q1110,520 1080,570 M1130,240 Q1180,300 1180,420 Q1180,500 1150,545 M1210,225 Q1260,300 1250,420 Q1245,490 1220,520"/>
 <path class="k" d="M1005,470 L1040,500 L1030,560 L1005,545 Z M1085,455 L1120,470 L1110,530 L1090,520 Z M1160,440 L1190,450 L1180,510 L1160,500 Z M1230,410 L1255,420 L1250,480 L1230,470 Z"/>
 <!-- elbow body -->
 <path class="w" d="M300,300 Q380,160 520,135 L715,115 L860,175 L940,260 L985,420 L995,600 L960,700 L890,790 L800,820 L710,930 L575,900 L570,1060 Q450,1140 250,1120 Q130,1080 130,1040 L140,790 L180,740 Q110,680 90,550 Q95,400 160,360 Q230,320 300,300 Z"/>
 <path class="l" d="M300,300 Q380,160 520,135 L715,115 L860,175 Q920,220 945,280 L985,420 L995,600 Q980,680 890,790 L800,820"/>
 <path class="l" d="M300,300 Q230,320 160,360 Q95,420 90,550 Q110,680 180,740 Q130,760 135,850 L130,1040 Q200,1110 310,1125 Q480,1130 570,1060 L575,900"/>
 <path class="m" d="M575,140 L750,200 L850,185 M750,200 Q740,300 830,410 L975,410 M830,410 Q790,540 850,660 L990,600"/>
 <path class="m" d="M505,160 Q660,220 690,420 Q700,520 690,600"/>
 <path class="m" d="M420,265 Q600,320 620,480"/>
 <path class="m" d="M210,380 Q330,410 360,560 Q350,650 330,700"/>
 <path class="m" d="M215,420 Q150,520 200,690"/>
 <path class="m" d="M170,840 Q350,930 520,870"/>
 <path class="m" d="M220,1000 L215,1080 M380,990 L385,1110 M510,950 L510,1090 M135,960 Q180,1000 220,1000 Q300,1010 380,990 Q450,980 510,950 Q550,930 570,905"/>
 <path class="m" d="M330,700 Q400,660 430,560 L480,545 L470,600 L500,580 L590,555 L590,535 L520,540"/>
 <path class="m" d="M230,790 Q250,820 220,840 M340,820 L355,700"/>
 <path class="f" d="M370,805 Q380,790 400,795 L440,815 Q450,835 430,845 L390,835 Q365,825 370,805 Z" style="stroke-width:1.6"/>
 <!-- bleed nipple -->
 <path class="f" d="M450,740 L560,595 Q600,575 640,585 L760,650 Q800,700 795,770 L710,930 L660,905 L610,930 L455,800 Q440,770 450,740 Z"/>
 <path class="m" d="M480,745 L525,772 M560,600 Q600,640 640,625 M600,650 Q590,760 620,860"/>
 <path class="m" d="M660,740 Q690,700 730,715 Q775,740 778,760 L740,780 L715,930 M660,740 Q640,800 680,880 L700,925"/>
</g>
<g id="labels">
<text x="949.5" y="200.8" font-size="32.5" letter-spacing="0.5">Sealing gasket</text>
<text x="1213" y="208" font-size="33">11</text>
<text x="1290" y="249" font-size="33" letter-spacing="2.5">13</text>
<text x="1389" y="265.5" font-size="33" letter-spacing="3.5">12</text>
<text x="513" y="252" font-size="33" letter-spacing="2.5">10</text>
<text x="300" y="505" font-size="32" letter-spacing="0.8">Sealing gasket</text>
<text x="243" y="574.5" font-size="33">17</text>
<text x="70" y="634.7" font-size="33" letter-spacing="3">42</text>
<text x="1043" y="722" font-size="33" letter-spacing="2.5">16</text>
<text x="340" y="1147" font-size="32" letter-spacing="0.83" style="white-space:pre">Solenoid  valve</text>
<text x="1889" y="1131.7" font-size="25" letter-spacing="1.3">CL1660</text>
</g>
<g class="t">
<path d="M1102.6,210.5 L1039.3,301"/>
<path d="M1219.6,218.7 L1136.7,322"/>
<path d="M1295,255.8 L1151.7,417"/>
<path d="M1403.5,279.9 L1326.6,417"/>
<path d="M554.4,251.8 L798.7,293.3"/>
<path d="M520,494 L799.3,538.3"/>
<path d="M267.2,582.5 L461.5,698.4"/>
<path d="M99.6,651 L157.8,820.9"/>
<path d="M1048,693.2 L1037.4,574.8"/>
<path d="M492,1114 L561.8,917.5"/>
</g>
</svg>
</body></html>
